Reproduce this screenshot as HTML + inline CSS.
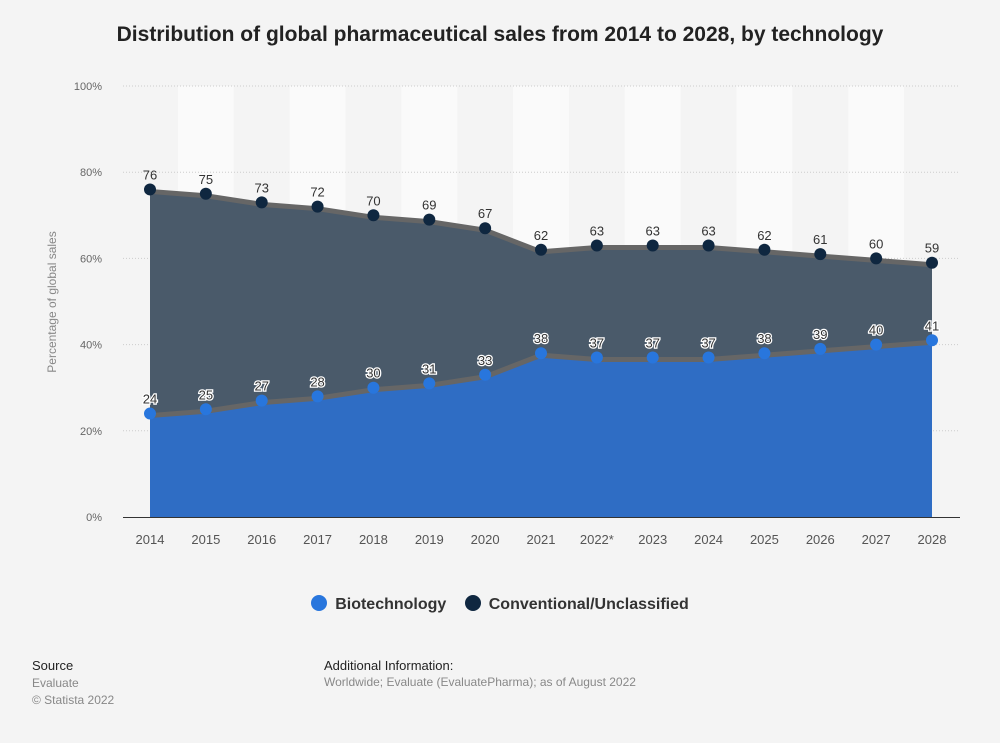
<!DOCTYPE html>
<html><head><meta charset="utf-8"><style>
body{margin:0;background:#f4f4f4;font-family:"Liberation Sans",sans-serif;}
#wrap{position:relative;width:1000px;height:743px;background:#f4f4f4;overflow:hidden}
.t{position:absolute;white-space:nowrap}
</style></head><body>
<div id="wrap">
<div class="t" style="left:0;width:1000px;text-align:center;top:23px;font-size:21px;font-weight:bold;color:#222">Distribution of global pharmaceutical sales from 2014 to 2028, by technology</div>
<svg id="chart" width="1000" height="560" style="position:absolute;left:0;top:0"></svg>
<div class="t" style="left:0;width:1000px;top:595px;text-align:center;font-size:16px;font-weight:bold;color:#333">
<span><span style="display:inline-block;width:16px;height:16px;border-radius:50%;background:#2876dd;vertical-align:-2px;margin-right:8px"></span>Biotechnology</span>
<span style="margin-left:14px"><span style="display:inline-block;width:16px;height:16px;border-radius:50%;background:#0f2740;vertical-align:-2px;margin-right:8px"></span>Conventional/Unclassified</span>
</div>
<div class="t" style="left:32px;top:658px;font-size:13px;color:#222">Source</div>
<div class="t" style="left:32px;top:675px;font-size:12px;color:#888;line-height:17px">Evaluate<br>© Statista 2022</div>
<div class="t" style="left:324px;top:658px;font-size:13px;color:#222">Additional Information:</div>
<div class="t" style="left:324px;top:675px;font-size:12px;color:#888">Worldwide; Evaluate (EvaluatePharma); as of August 2022</div>
</div>
<script>
const categories=["2014","2015","2016","2017","2018","2019","2020","2021","2022*","2023","2024","2025","2026","2027","2028"];
const bioValues=[24,25,27,28,30,31,33,38,37,37,37,38,39,40,41];
const convValues=[76,75,73,72,70,69,67,62,63,63,63,62,61,60,59];
const yTicks=[0,20,40,60,80,100];
const NS="http://www.w3.org/2000/svg";
const svg=document.getElementById('chart');
const x0=150,x1=932,yTop=86,yBot=517,left=123,right=960;
const step=(x1-x0)/(categories.length-1);
const xS=i=>x0+i*step;
const yS=v=>yBot-(v/100)*(yBot-yTop);
function mk(tag,attrs,parent){const e=document.createElementNS(NS,tag);for(const k in attrs)e.setAttribute(k,attrs[k]);(parent||svg).appendChild(e);return e;}
categories.forEach((c,i)=>{if(i%2===1){const r=mk('rect',{x:xS(i)-step/2,y:yTop,width:step,height:yBot-yTop,fill:'#fafafa'});

}});
yTicks.forEach(v=>{if(v>0){const l=mk('line',{x1:left,x2:right,y1:yS(v),y2:yS(v),stroke:'#ccc','stroke-dasharray':'1,2'});

}
const t=mk('text',{x:102,y:yS(v)+4,'text-anchor':'end','font-size':11,fill:'#666'});t.textContent=v+'%';

});
const yt=mk('text',{x:0,y:0,transform:'translate(56,302) rotate(-90)','text-anchor':'middle','font-size':12,fill:'#888'});yt.textContent='Percentage of global sales';


function area(vals,fill,name){let d='M'+xS(0)+','+yBot;vals.forEach((v,i)=>d+=' L'+xS(i)+','+yS(v));d+=' L'+xS(vals.length-1)+','+yBot+' Z';const p=mk('path',{d:d,fill:fill});

}
function line(vals,name){const pts=vals.map((v,i)=>xS(i)+','+(yS(v)+2)).join(' ');const p=mk('polyline',{points:pts,fill:'none',stroke:'#666','stroke-width':5});

}
area(convValues,'#4a5a6a','conventional-area');
line(convValues,'conventional-line');
area(bioValues,'#2f6dc4','biotech-area');
line(bioValues,'biotech-line');
function pts(vals,col,name,halo){vals.forEach((v,i)=>{const c=mk('circle',{cx:xS(i),cy:yS(v),r:6,fill:col});


const t=mk('text',{x:xS(i),y:yS(v)-10,'text-anchor':'middle','font-size':13,fill:'#333'});
if(halo){t.setAttribute('stroke','#fff');t.setAttribute('stroke-width','2.5');t.setAttribute('paint-order','stroke');}
t.textContent=v;

});}
pts(convValues,'#0f2740','conventional',false);
pts(bioValues,'#2876dd','biotech',true);
const ax=mk('line',{x1:left,x2:right,y1:yBot+0.5,y2:yBot+0.5,stroke:'#333','stroke-width':1});


categories.forEach((c,i)=>{const t=mk('text',{x:xS(i),y:544,'text-anchor':'middle','font-size':13,fill:'#555'});t.textContent=c;

});
</script>
</body></html>
